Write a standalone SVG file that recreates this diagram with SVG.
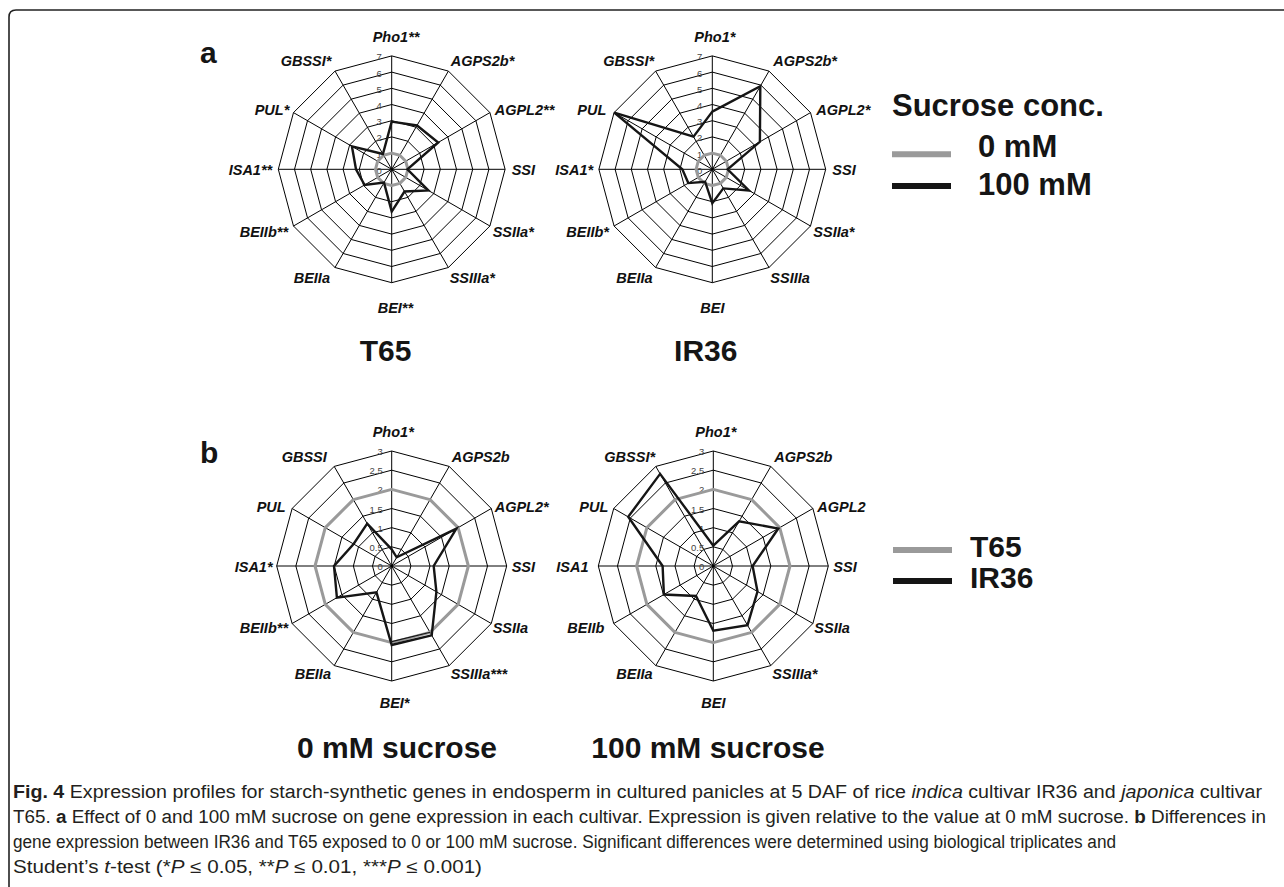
<svg xmlns="http://www.w3.org/2000/svg" width="1284" height="887" viewBox="0 0 1284 887">
<style>
.grid{fill:none;stroke:#000;stroke-width:1}
.s0{fill:none;stroke:#9a9a9a;stroke-width:3;stroke-linejoin:round}
.s1{fill:none;stroke:#151515;stroke-width:2.4;stroke-linejoin:miter}
.lab{font-family:"Liberation Sans",Arial,sans-serif;font-weight:bold;font-style:italic;font-size:14.5px;fill:#111}
.tick{font-family:"Liberation Sans",Arial,sans-serif;font-size:9.5px;fill:#444;text-anchor:end}
.big{font-family:"Liberation Sans",Arial,sans-serif;font-weight:bold;font-size:30px;fill:#151515}
.leg{font-family:"Liberation Sans",Arial,sans-serif;font-weight:bold;font-size:31px;fill:#151515}
.cap{font-family:"Liberation Sans Narrow","Liberation Sans",Arial,sans-serif;font-size:18px;fill:#231f20}
.mid{text-anchor:middle}
</style>
<defs>
<g id="gridA" class="grid">
<polygon points="0,-16.2 8.1,-14.03 14.03,-8.1 16.2,0 14.03,8.1 8.1,14.03 0,16.2 -8.1,14.03 -14.03,8.1 -16.2,0 -14.03,-8.1 -8.1,-14.03"/>
<polygon points="0,-32.4 16.2,-28.06 28.06,-16.2 32.4,0 28.06,16.2 16.2,28.06 0,32.4 -16.2,28.06 -28.06,16.2 -32.4,0 -28.06,-16.2 -16.2,-28.06"/>
<polygon points="0,-48.6 24.3,-42.09 42.09,-24.3 48.6,0 42.09,24.3 24.3,42.09 0,48.6 -24.3,42.09 -42.09,24.3 -48.6,0 -42.09,-24.3 -24.3,-42.09"/>
<polygon points="0,-64.8 32.4,-56.12 56.12,-32.4 64.8,0 56.12,32.4 32.4,56.12 0,64.8 -32.4,56.12 -56.12,32.4 -64.8,0 -56.12,-32.4 -32.4,-56.12"/>
<polygon points="0,-81 40.5,-70.15 70.15,-40.5 81,0 70.15,40.5 40.5,70.15 0,81 -40.5,70.15 -70.15,40.5 -81,0 -70.15,-40.5 -40.5,-70.15"/>
<polygon points="0,-97.2 48.6,-84.18 84.18,-48.6 97.2,0 84.18,48.6 48.6,84.18 0,97.2 -48.6,84.18 -84.18,48.6 -97.2,0 -84.18,-48.6 -48.6,-84.18"/>
<polygon points="0,-113.4 56.7,-98.21 98.21,-56.7 113.4,0 98.21,56.7 56.7,98.21 0,113.4 -56.7,98.21 -98.21,56.7 -113.4,0 -98.21,-56.7 -56.7,-98.21"/>
<path d="M0,-113.4V113.4M-113.4,0H113.4M56.7,-98.21L-56.7,98.21M98.21,-56.7L-98.21,56.7M98.21,56.7L-98.21,-56.7M56.7,98.21L-56.7,-98.21"/>
</g>
<g id="ticksA" class="tick">
<text x="-10" y="4.5">0</text><text x="-10" y="-11.7">1</text><text x="-10" y="-27.9">2</text><text x="-10" y="-44.1">3</text>
<text x="-10" y="-60.3">4</text><text x="-10" y="-76.5">5</text><text x="-10" y="-92.7">6</text><text x="-10" y="-108.9">7</text>
</g>
<g id="gridB" class="grid">
<polygon points="0,-19.17 9.58,-16.6 16.6,-9.58 19.17,0 16.6,9.58 9.58,16.6 0,19.17 -9.58,16.6 -16.6,9.58 -19.17,0 -16.6,-9.58 -9.58,-16.6"/>
<polygon points="0,-38.33 19.17,-33.2 33.2,-19.17 38.33,0 33.2,19.17 19.17,33.2 0,38.33 -19.17,33.2 -33.2,19.17 -38.33,0 -33.2,-19.17 -19.17,-33.2"/>
<polygon points="0,-57.5 28.75,-49.8 49.8,-28.75 57.5,0 49.8,28.75 28.75,49.8 0,57.5 -28.75,49.8 -49.8,28.75 -57.5,0 -49.8,-28.75 -28.75,-49.8"/>
<polygon points="0,-76.67 38.33,-66.4 66.4,-38.33 76.67,0 66.4,38.33 38.33,66.4 0,76.67 -38.33,66.4 -66.4,38.33 -76.67,0 -66.4,-38.33 -38.33,-66.4"/>
<polygon points="0,-95.83 47.92,-82.99 82.99,-47.92 95.83,0 82.99,47.92 47.92,82.99 0,95.83 -47.92,82.99 -82.99,47.92 -95.83,0 -82.99,-47.92 -47.92,-82.99"/>
<polygon points="0,-115 57.5,-99.59 99.59,-57.5 115,0 99.59,57.5 57.5,99.59 0,115 -57.5,99.59 -99.59,57.5 -115,0 -99.59,-57.5 -57.5,-99.59"/>
<path d="M0,-115V115M-115,0H115M57.5,-99.59L-57.5,99.59M99.59,-57.5L-99.59,57.5M99.59,57.5L-99.59,-57.5M57.5,99.59L-57.5,-99.59"/>
</g>
<g id="ticksB" class="tick">
<text x="-9" y="4">0</text><text x="-9" y="-15.2">0.5</text><text x="-9" y="-34.3">1</text><text x="-9" y="-53.5">1.5</text>
<text x="-9" y="-72.7">2</text><text x="-9" y="-91.8">2.5</text><text x="-9" y="-111">3</text>
</g>
<polygon id="grayA" class="s0" points="0,-16.2 8.1,-14.03 14.03,-8.1 16.2,0 14.03,8.1 8.1,14.03 0,16.2 -8.1,14.03 -14.03,8.1 -16.2,0 -14.03,-8.1 -8.1,-14.03"/>
<polygon id="grayB" class="s0" points="0,-76.67 38.33,-66.4 66.4,-38.33 76.67,0 66.4,38.33 38.33,66.4 0,76.67 -38.33,66.4 -66.4,38.33 -76.67,0 -66.4,-38.33 -38.33,-66.4"/>
</defs>

<path d="M9,887V17Q9,10 16,10H1284" fill="none" stroke="#222" stroke-width="1.6"/>

<text class="big" x="200" y="63">a</text>
<text class="big" x="200" y="463">b</text>

<g id="chart-a-T65" transform="translate(391.7,169.3)">
<use href="#gridA"/>
<use href="#ticksA"/>
<use href="#grayA"/>
<polygon class="s1" points="0,-47.7 25.3,-43.8 46.5,-26.8 15.7,0 36.7,21.2 12.8,22.2 0,42.3 -7.7,13.3 -27.1,15.7 -35.7,0 -39.8,-23 -8.8,-15.3"/>
<g class="lab">
<text x="-19" y="-127">Pho1**</text>
<text x="59" y="-103">AGPS2b*</text>
<text x="103" y="-54">AGPL2**</text>
<text x="120" y="6">SSI</text>
<text x="101" y="68">SSIIa*</text>
<text x="58" y="114">SSIIIa*</text>
<text x="-14" y="144">BEI**</text>
<text x="-98" y="114">BEIIa</text>
<text x="-152" y="68">BEIIb**</text>
<text x="-163" y="6">ISA1**</text>
<text x="-137" y="-54">PUL*</text>
<text x="-111" y="-103">GBSSI*</text>
</g>
</g>

<g id="chart-a-IR36" transform="translate(712.3,169.3)">
<use href="#gridA"/>
<use href="#ticksA"/>
<use href="#grayA"/>
<polygon class="s1" points="0,-57.7 48,-83.1 47.6,-27.5 15.3,0 36.7,21.2 11,19.1 0,34 -7.2,12.4 -24,13.8 -30,0 -98.1,-56.7 -18.8,-32.6"/>
<g class="lab">
<text x="-18" y="-127">Pho1*</text>
<text x="61" y="-103">AGPS2b*</text>
<text x="104" y="-54">AGPL2*</text>
<text x="120" y="6">SSI</text>
<text x="101" y="68">SSIIa*</text>
<text x="58" y="114">SSIIIa</text>
<text x="-12" y="144">BEI</text>
<text x="-96" y="114">BEIIa</text>
<text x="-146" y="68">BEIIb*</text>
<text x="-157" y="6">ISA1*</text>
<text x="-135" y="-54">PUL</text>
<text x="-109" y="-103">GBSSI*</text>
</g>
</g>

<g id="chart-b-0mM" transform="translate(391.7,566)">
<use href="#gridB"/>
<use href="#ticksB"/>
<use href="#grayB"/>
<polygon class="s1" points="0,-16.7 5,-8.7 64.7,-37.3 42,0 44.7,25.8 40,69.3 0,79 -15.2,26.3 -54.8,31.7 -57.7,0 -38.1,-22 -24.5,-42.4"/>
<polyline points="38.6,66.2 0,75.6" fill="none" stroke="#151515" stroke-width="1.1"/>
<g class="lab">
<text x="-19" y="-129">Pho1*</text>
<text x="60" y="-104">AGPS2b</text>
<text x="103" y="-54">AGPL2*</text>
<text x="120" y="6">SSI</text>
<text x="101" y="67">SSIIa</text>
<text x="59" y="113">SSIIIa***</text>
<text x="-12" y="142">BEI*</text>
<text x="-97" y="113">BEIIa</text>
<text x="-152" y="67">BEIIb**</text>
<text x="-157" y="6">ISA1*</text>
<text x="-135" y="-54">PUL</text>
<text x="-110" y="-104">GBSSI</text>
</g>
</g>

<g id="chart-b-100mM" transform="translate(713.3,566)">
<use href="#gridB"/>
<use href="#ticksB"/>
<use href="#grayB"/>
<polygon class="s1" points="0,-20.3 25.8,-44.7 65,-37.5 39.3,0 44.2,25.5 34.2,59.2 0,64.7 -17.3,30 -49.4,28.5 -50.7,0 -85.1,-49.2 -53.2,-92.1"/>
<g class="lab">
<text x="-18" y="-129">Pho1*</text>
<text x="61" y="-104">AGPS2b</text>
<text x="104" y="-54">AGPL2</text>
<text x="120" y="6">SSI</text>
<text x="101" y="67">SSIIa</text>
<text x="59" y="113">SSIIIa*</text>
<text x="-12" y="142">BEI</text>
<text x="-97" y="113">BEIIa</text>
<text x="-146" y="67">BEIIb</text>
<text x="-157" y="6">ISA1</text>
<text x="-134" y="-54">PUL</text>
<text x="-109" y="-104">GBSSI*</text>
</g>
</g>

<text class="big mid" x="385.5" y="361">T65</text>
<text class="big mid" x="705.8" y="361">IR36</text>
<text class="big mid" x="397" y="758">0 mM sucrose</text>
<text class="big mid" x="708" y="758">100 mM sucrose</text>

<g id="legend-a">
<text class="leg" x="892" y="116">Sucrose conc.</text>
<line x1="892" y1="154.3" x2="951" y2="154.3" stroke="#9a9a9a" stroke-width="6"/>
<line x1="892" y1="186" x2="951" y2="186" stroke="#151515" stroke-width="6"/>
<text class="leg" x="978" y="157">0 mM</text>
<text class="leg" x="978" y="195">100 mM</text>
</g>

<g id="legend-b">
<line x1="893" y1="550" x2="952" y2="550" stroke="#9a9a9a" stroke-width="6"/>
<line x1="893" y1="581" x2="952" y2="581" stroke="#151515" stroke-width="6"/>
<text class="big" x="970" y="557">T65</text>
<text class="big" x="970" y="588">IR36</text>
</g>

<g id="caption" class="cap">
<text x="13" y="798" textLength="1249" lengthAdjust="spacingAndGlyphs"><tspan font-weight="bold">Fig. 4</tspan> Expression profiles for starch-synthetic genes in endosperm in cultured panicles at 5 DAF of rice <tspan font-style="italic">indica</tspan> cultivar IR36 and <tspan font-style="italic">japonica</tspan> cultivar</text>
<text x="13" y="823" textLength="1253" lengthAdjust="spacingAndGlyphs">T65. <tspan font-weight="bold">a</tspan> Effect of 0 and 100 mM sucrose on gene expression in each cultivar. Expression is given relative to the value at 0 mM sucrose. <tspan font-weight="bold">b</tspan> Differences in</text>
<text x="13" y="848" textLength="1103" lengthAdjust="spacingAndGlyphs">gene expression between IR36 and T65 exposed to 0 or 100 mM sucrose. Significant differences were determined using biological triplicates and</text>
<text x="13" y="873" textLength="469" lengthAdjust="spacingAndGlyphs">Student’s <tspan font-style="italic">t</tspan>-test (*<tspan font-style="italic">P</tspan> ≤ 0.05, **<tspan font-style="italic">P</tspan> ≤ 0.01, ***<tspan font-style="italic">P</tspan> ≤ 0.001)</text>
</g>
</svg>
